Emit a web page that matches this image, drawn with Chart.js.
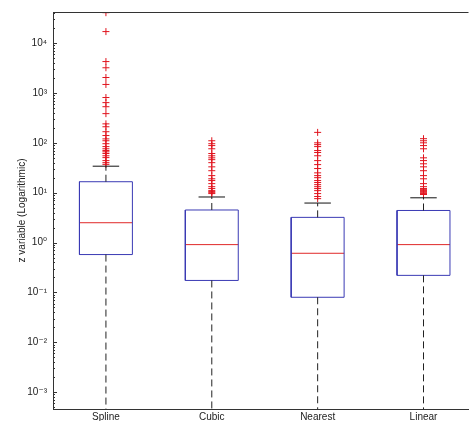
<!DOCTYPE html>
<html>
<head>
<meta charset="utf-8">
<script src="https://cdn.jsdelivr.net/npm/chart.js@4"></script>
<style>
  html, body { margin: 0; padding: 0; background: #fff; overflow: hidden; }
  #wrap { position: relative; width: 473px; height: 421px; }
</style>
</head>
<body>
<div id="wrap"><canvas id="chart-box"></canvas></div>
<script>
'use strict';

/* ─── Data ──────────────────────────────────────────────────── */
const categories    = ['Spline', 'Cubic', 'Nearest', 'Linear'];
const lowerWhisker  = [0.0001, 0.0001, 0.0001, 0.0001];   // below the visible range
const q1            = [0.575, 0.174, 0.080, 0.22];
const medians       = [2.5, 0.91, 0.61, 0.91];
const q3            = [16.6, 4.5, 3.2, 4.4];
const upperWhisker  = [34, 8.2, 6.2, 7.9];

const splineOutliers  = [40700, 17000, 4260, 3200, 2040, 1480, 810, 640, 530, 385, 240, 210,
                         167, 140, 120, 110, 96, 84, 76, 70, 66, 61, 55, 50.5, 44, 40, 37];
const cubicOutliers   = [110, 96, 88, 76, 61, 55, 50, 46, 40, 33, 27.6, 22, 19, 17.5, 15.2,
                         13.2, 12.1, 11, 10.5, 10, 9.6];
const nearestOutliers = [162, 100, 92, 84, 70, 64, 55, 44, 36.6, 30.5, 25, 22, 20, 17.5, 16,
                         14.5, 13.2, 12.1, 11, 9.6, 8.4, 7.6];
const linearOutliers  = [121, 110, 100, 88, 76, 50, 44, 38, 33, 27.6, 22, 19, 15.2, 13.2,
                         12.1, 11.5, 11, 10.5, 10, 9.6, 9.2];
const outliers = [splineOutliers, cubicOutliers, nearestOutliers, linearOutliers];

const yTickExponents = [-3, -2, -1, 0, 1, 2, 3, 4];
const yMin = 4.6e-4;
const yMax = 4.2e4;

/* ─── Styling ───────────────────────────────────────────────── */
const BOX_COLOR     = '#3a3ab4';
const MEDIAN_COLOR  = '#e02828';
const OUTLIER_COLOR = '#e0141e';
const AXIS_COLOR    = '#333';
const BOX_HALF      = 0.25;
const CAP_HALF      = 0.125;
const SUP = { '-': '⁻', '0': '⁰', '1': '¹', '2': '²', '3': '³', '4': '⁴',
              '5': '⁵', '6': '⁶', '7': '⁷', '8': '⁸', '9': '⁹' };

function seg(points, color, dash) {
  return {
    data: points,
    showLine: true,
    borderColor: color,
    borderWidth: 1,
    borderDash: dash || [],
    pointRadius: 0,
    pointHoverRadius: 0,
    fill: false,
    tension: 0,
  };
}

/* ─── Build datasets from the arrays ────────────────────────── */
const datasets = [];
categories.forEach((c, i) => {
  const x = i + 1;
  // whiskers (dashed) and caps
  datasets.push(seg([{ x, y: q3[i] }, { x, y: upperWhisker[i] }], '#222', [7, 4]));
  datasets.push(seg([{ x, y: q1[i] }, { x, y: lowerWhisker[i] }], '#222', [7, 4]));
  datasets.push(seg([{ x: x - CAP_HALF, y: upperWhisker[i] }, { x: x + CAP_HALF, y: upperWhisker[i] }], '#111'));
  datasets.push(seg([{ x: x - CAP_HALF, y: lowerWhisker[i] }, { x: x + CAP_HALF, y: lowerWhisker[i] }], '#111'));
  // box outline
  datasets.push(seg([
    { x: x - BOX_HALF, y: q1[i] }, { x: x + BOX_HALF, y: q1[i] },
    { x: x + BOX_HALF, y: q3[i] }, { x: x - BOX_HALF, y: q3[i] },
    { x: x - BOX_HALF, y: q1[i] },
  ], BOX_COLOR));
  // median
  datasets.push(seg([{ x: x - BOX_HALF, y: medians[i] }, { x: x + BOX_HALF, y: medians[i] }], MEDIAN_COLOR));
  // outliers
  datasets.push({
    data: outliers[i].map(v => ({ x, y: v })),
    showLine: false,
    pointStyle: 'cross',
    pointRadius: 3.5,
    pointHoverRadius: 3.5,
    pointBorderColor: OUTLIER_COLOR,
    pointBorderWidth: 1,
  });
});

/* ─── Inward (MATLAB style) ticks + top frame line ──────────── */
const matlabFrame = {
  id: 'matlabFrame',
  afterDraw(chart) {
    const { ctx, chartArea: a, scales: { y } } = chart;
    ctx.save();
    ctx.strokeStyle = AXIS_COLOR;
    ctx.lineWidth = 1;
    ctx.beginPath();
    ctx.moveTo(a.left, Math.round(a.top) + 0.5);
    ctx.lineTo(a.right, Math.round(a.top) + 0.5);
    y.ticks.forEach(t => {
      const py = Math.round(y.getPixelForValue(t.value)) + 0.5;
      const len = t.major ? 4 : 2;
      ctx.moveTo(a.left, py);
      ctx.lineTo(a.left + len, py);
    });
    ctx.stroke();
    ctx.restore();
  },
};

/* ─── Chart ─────────────────────────────────────────────────── */
Chart.defaults.font.family = "'Liberation Sans', Arial, 'DejaVu Sans', sans-serif";
Chart.defaults.font.size = 10;
Chart.defaults.color = '#222';

new Chart(document.getElementById('chart-box'), {
  type: 'scatter',
  data: { datasets },
  options: {
    responsive: true,
    maintainAspectRatio: false,
    animation: false,
    events: [],
    layout: { padding: { top: 11, right: 0, bottom: 0, left: 0 } },
    plugins: {
      legend: { display: false },
      tooltip: { enabled: false },
    },
    scales: {
      x: {
        type: 'linear',
        min: 0.5,
        max: 4.425,
        grid: { display: false, drawTicks: false },
        border: { display: true, color: AXIS_COLOR, width: 1 },
        afterBuildTicks: s => { s.ticks = categories.map((c, i) => ({ value: i + 1 })); },
        afterFit: s => { s.height = 12; },
        ticks: {
          autoSkip: false,
          maxRotation: 0,
          padding: 2,
          color: '#222',
          callback: v => categories[v - 1] ?? '',
        },
      },
      y: {
        type: 'logarithmic',
        min: yMin,
        max: yMax,
        grid: { display: false, drawTicks: false },
        border: { display: true, color: AXIS_COLOR, width: 1 },
        afterBuildTicks: s => {
          const ticks = [];
          for (let e = yTickExponents[0] - 1; e <= yTickExponents[yTickExponents.length - 1]; e++) {
            for (let k = 1; k <= 9; k++) {
              const v = k * Math.pow(10, e);
              if (v >= yMin && v <= yMax) ticks.push({ value: v, major: k === 1 && yTickExponents.includes(e) });
            }
          }
          s.ticks = ticks;
        },
        afterFit: s => { s.width = 53; },
        title: {
          display: true,
          text: 'z variable (Logarithmic)',
          color: '#222',
          font: { size: 10 },
          padding: { top: 16, bottom: 0 },
        },
        ticks: {
          autoSkip: false,
          padding: 6,
          color: '#222',
          callback: v => {
            const e = Math.round(Math.log10(v));
            if (Math.abs(v - Math.pow(10, e)) / v > 1e-9 || !yTickExponents.includes(e)) return '';
            return '10' + String(e).split('').map(ch => SUP[ch]).join('');
          },
        },
      },
    },
  },
  plugins: [matlabFrame],
});
</script>
</body>
</html>
